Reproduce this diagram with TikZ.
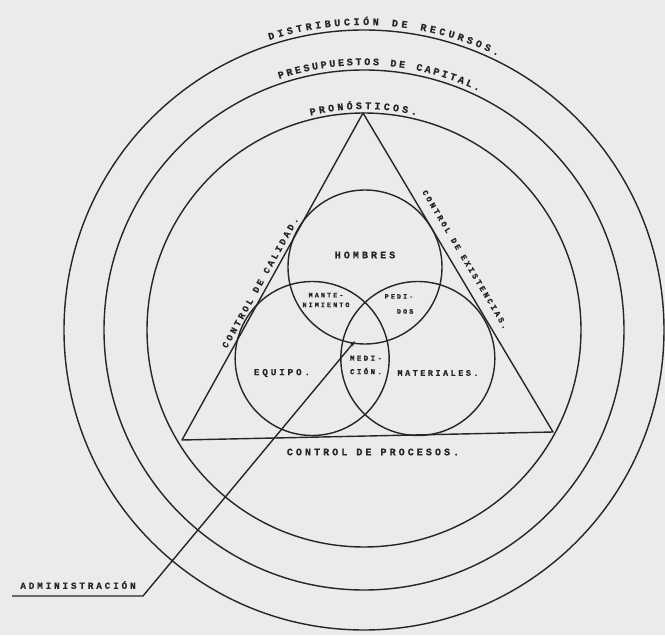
\documentclass[tikz,border=0pt]{standalone}
\usepackage{fontspec}
\newfontfamily\rotulo{Liberation Mono}[LetterSpace=30, UprightFont={* Bold}, FakeBold=0.6]
\newcommand{\letra}[1]{\rotulo\fontsize{#1}{#1}\selectfont}
\usetikzlibrary{arrows.meta, calc}
\definecolor{papel}{gray}{0.92}
\definecolor{tinta}{gray}{0.15}

\begin{document}
\begin{tikzpicture}[x=0.03cm, y=0.03cm, line width=1.2pt,
  trazo/.style={draw=tinta},
  rotulo/.style={text=tinta, font=\letra{8.6}, inner sep=1pt},
  arco/.style={text=tinta, font=\letra{8.6}, inner sep=0pt, anchor=base}]
  % papel
  \fill[papel] (0,0) rectangle (665,635);
  \useasboundingbox (0,0) rectangle (665,635);
  \coordinate (c) at (364,305);
  % anillos
  \draw[trazo] (c) circle[radius=300];
  \draw[trazo] (c) circle[radius=260];
  \draw[trazo] (c) circle[radius=217];
  \foreach \l [count=\i] in {D,I,S,T,R,I,B,U,C,I,Ó,N,,D,E,,R,E,C,U,R,S,O,S,.}
    \node[arco, rotate={17.5-(\i-1)*1.79}] (dist\i) at ($(c)+({107.5-(\i-1)*1.79}:305)$) {\l};
  \foreach \l [count=\i] in {P,R,E,S,U,P,U,E,S,T,O,S,,D,E,,C,A,P,I,T,A,L,.}
    \node[arco, rotate={18-(\i-1)*1.87}] (pres\i) at ($(c)+({108-(\i-1)*1.87}:265)$) {\l};
  \foreach \l [count=\i] in {P,R,O,N,Ó,S,T,I,C,O,S,.}
    \node[arco, rotate={13.2-(\i-1)*2.38}] (pron\i) at ($(c)+({103.2-(\i-1)*2.38}:221)$) {\l};
  % triangulo
  \coordinate (top) at (363,522);
  \coordinate (izq) at (182,195);
  \coordinate (der) at (553,203);
  \draw[trazo, line join=round] (izq) -- (top) node[rotulo, font=\letra{7.8}, pos=0.47, sloped, above=2.5pt] (calidad) {CONTROL DE CALIDAD.}
    -- (der) node[rotulo, font=\letra{6.9}, pos=0.48, sloped, above=7pt] (existencias) {CONTROL DE EXISTENCIAS.}
    -- cycle;
  \node[rotulo] (procesos) at (373,183) {CONTROL DE PROCESOS.};
  % circulos
  \coordinate (v) at (365,307);
  \draw[trazo] ($(v)+(90:61)$) circle[radius=77];
  \draw[trazo] ($(v)+(210:61)$) circle[radius=77];
  \draw[trazo] ($(v)+(330:61)$) circle[radius=77];
  \node[rotulo] (hombres) at (365,380) {HOMBRES};
  \node[rotulo, font=\letra{5.8}, align=center] (mante) at (326,335) {MANTE-\\[2.5pt]NIMIENTO};
  \node[rotulo, font=\letra{5.8}, align=right] (pedidos) at (399,331) {PEDI-\\[7pt]DOS};
  \node[rotulo, font=\letra{6.5}, align=center] (medicion) at (366,270) {MEDI-\\[5pt]CIÓN.};
  \node[rotulo, font=\letra{8}] (equipo) at (282,262) {EQUIPO.};
  \node[rotulo, font=\letra{7.2}] (materiales) at (438,262) {MATERIALES.};
  % administracion
  \node[rotulo, font=\letra{8}] (admin) at (78,50) {ADMINISTRACIÓN};
  \coordinate (codo) at (143,39);
  \coordinate (punta) at (355,294);
  \draw[trazo, -{Stealth[length=5pt, width=3.5pt]}] (12,39) -- (codo) -- (punta);
\end{tikzpicture}
\end{document}
